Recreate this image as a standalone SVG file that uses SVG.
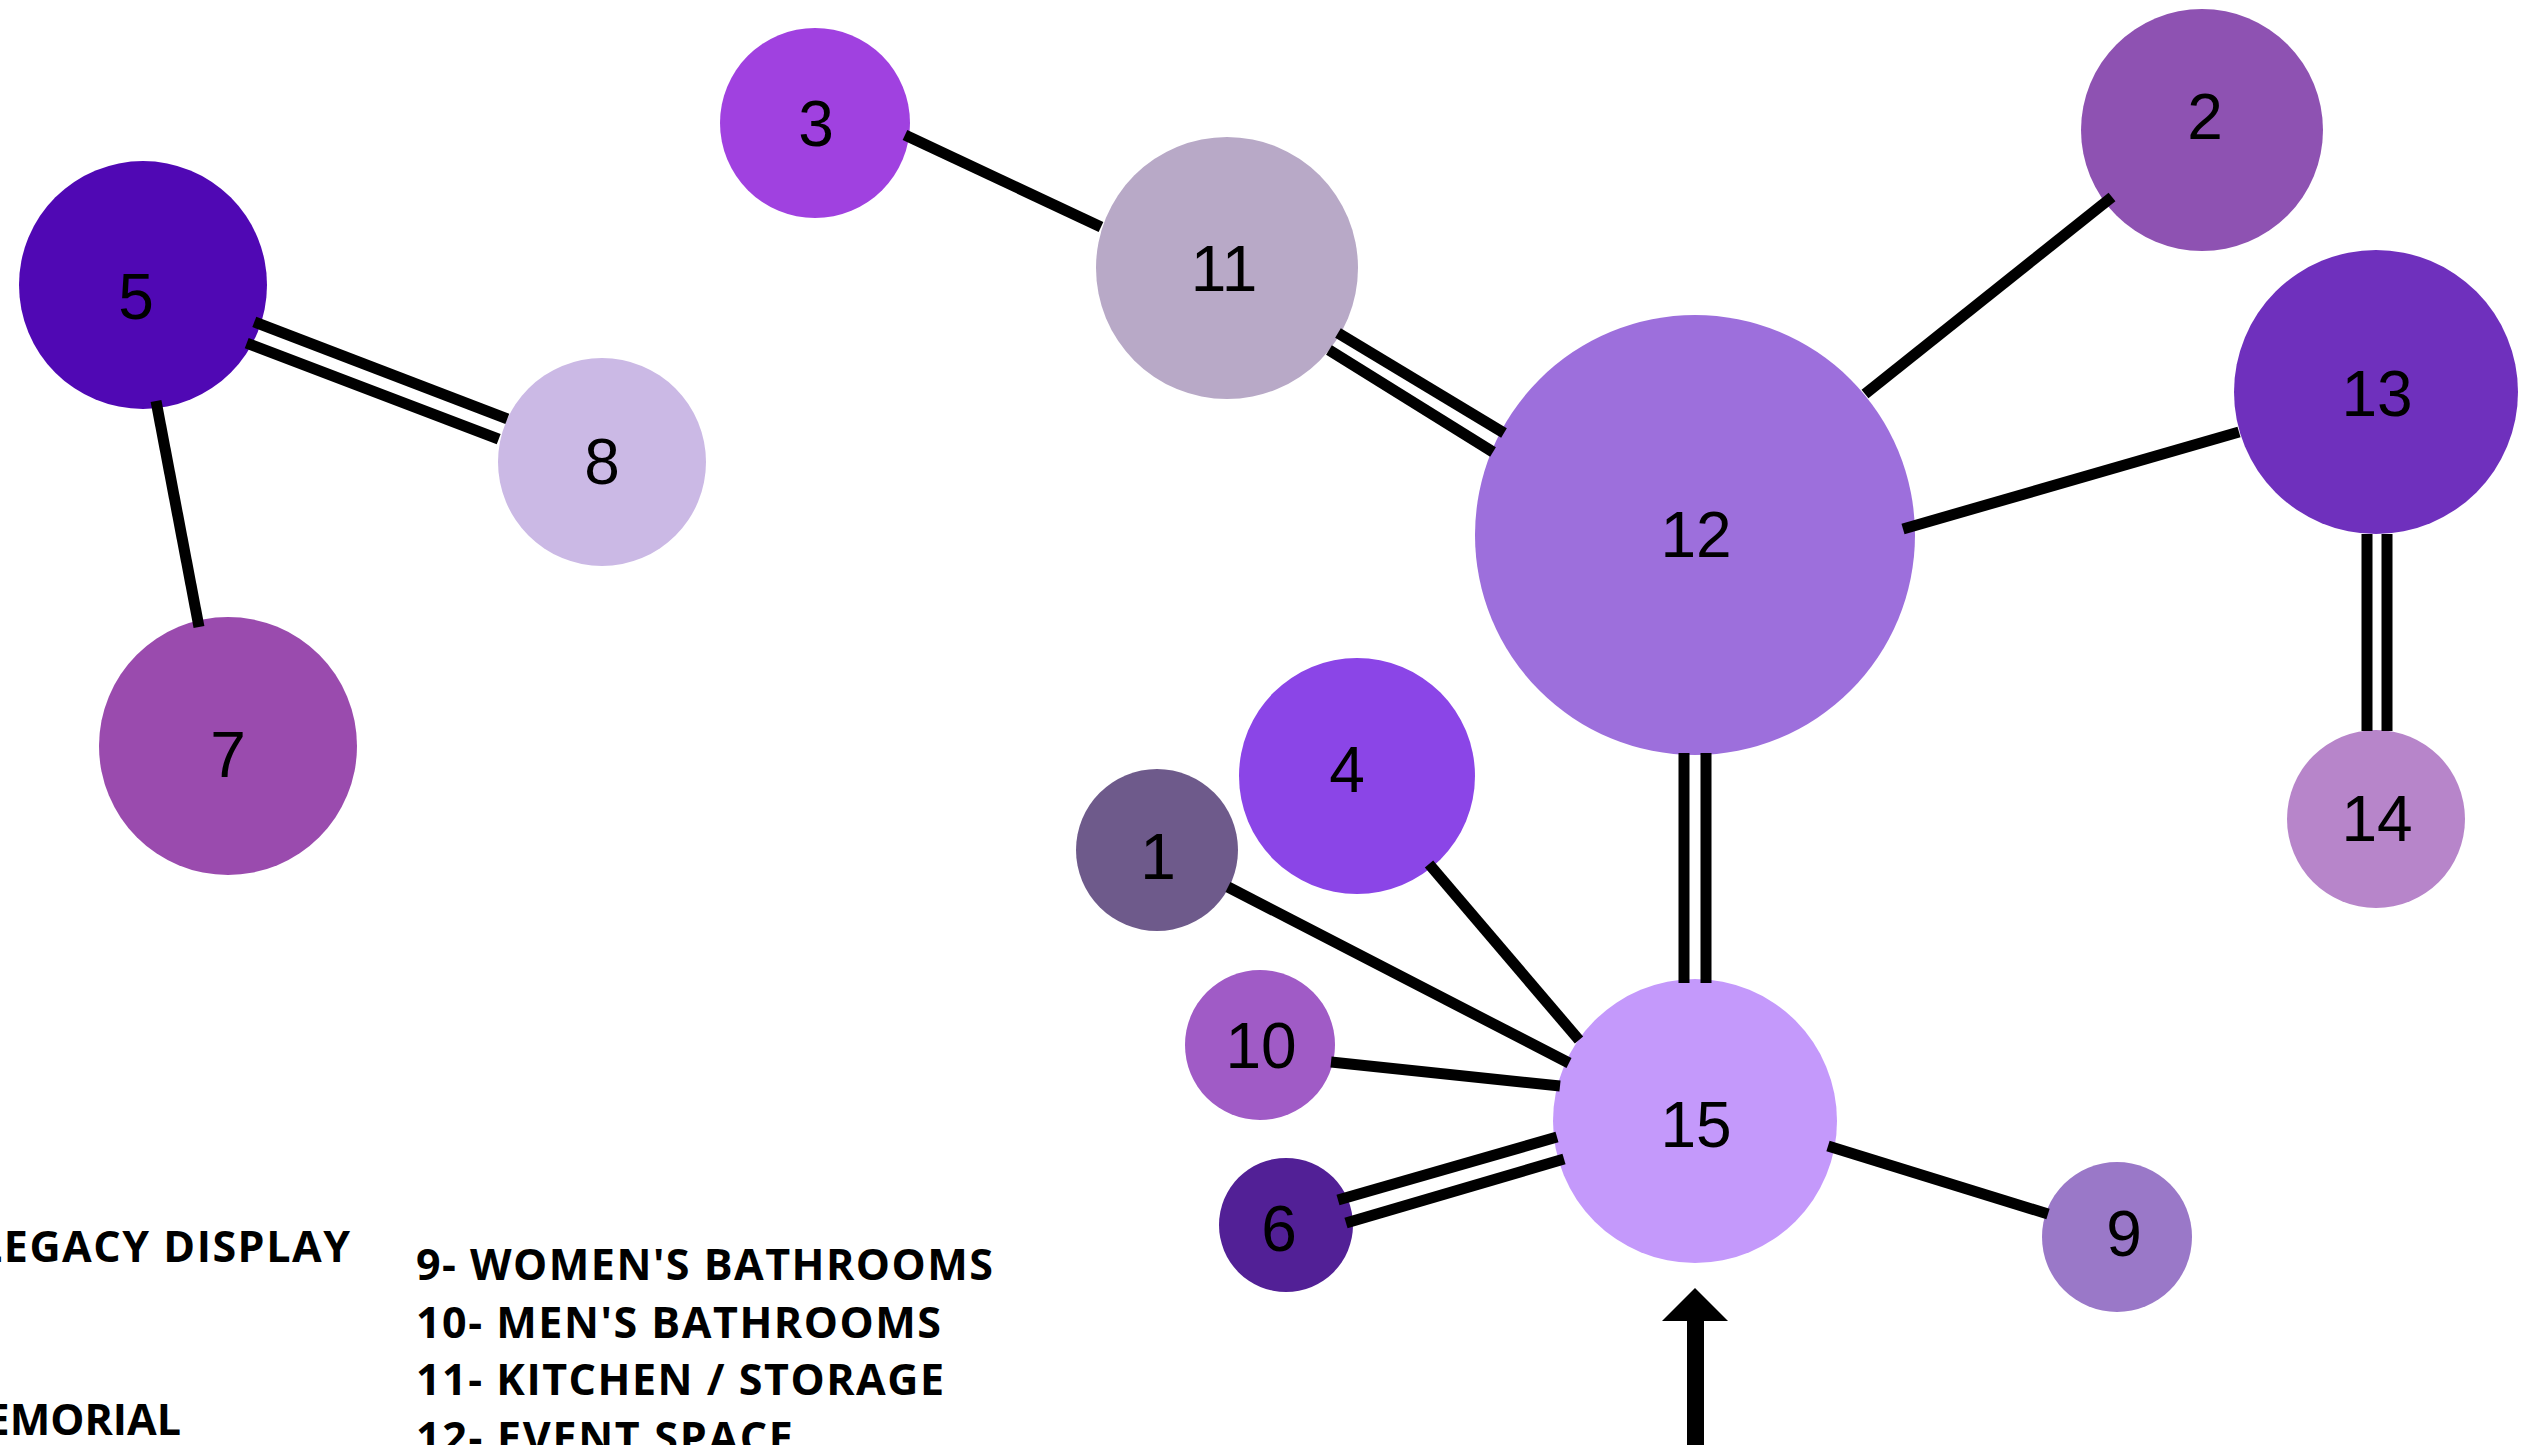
<svg xmlns="http://www.w3.org/2000/svg" width="2534" height="1445" viewBox="0 0 2534 1445">
<style>
.n text{font-family:"Liberation Sans",Arial,sans-serif;font-size:64px;fill:#000;text-anchor:middle}
.c line{stroke:#000;stroke-width:11;stroke-linecap:butt}
.lg{font-family:"Open Sans","DejaVu Sans",sans-serif;font-weight:700;font-size:43px;fill:#000}
</style>
<rect width="2534" height="1445" fill="#fff"/>
<g id="nodes" class="n">
<g id="node-5"><circle cx="143" cy="285" r="124" fill="#5008B4"/><text x="136" y="319">5</text></g>
<g id="node-8"><circle cx="602" cy="462" r="104" fill="#CBB9E5"/><text x="602" y="484">8</text></g>
<g id="node-7"><circle cx="228" cy="746" r="129" fill="#9A4BAE"/><text x="228" y="777">7</text></g>
<g id="node-3"><circle cx="815" cy="123" r="95" fill="#A041E0"/><text x="816" y="146">3</text></g>
<g id="node-11"><circle cx="1227" cy="268" r="131" fill="#B8A9C7"/><text x="1224" y="291">11</text></g>
<g id="node-2"><circle cx="2202" cy="130" r="121" fill="#8E52B2"/><text x="2205" y="139">2</text></g>
<g id="node-12"><circle cx="1695" cy="535" r="220" fill="#9D6FDC"/><text x="1696" y="557">12</text></g>
<g id="node-13"><circle cx="2376" cy="392" r="142" fill="#6F30BD"/><text x="2377" y="416">13</text></g>
<g id="node-14"><circle cx="2376" cy="819" r="89" fill="#B785CA"/><text x="2377" y="841">14</text></g>
<g id="node-4"><circle cx="1357" cy="776" r="118" fill="#8B45E7"/><text x="1347" y="792">4</text></g>
<g id="node-1"><circle cx="1157" cy="850" r="81" fill="#6E5A8B"/><text x="1158" y="879">1</text></g>
<g id="node-10"><circle cx="1260" cy="1045" r="75" fill="#A05BC6"/><text x="1261" y="1068">10</text></g>
<g id="node-6"><circle cx="1286" cy="1225" r="67" fill="#522096"/><text x="1279" y="1251">6</text></g>
<g id="node-15"><circle cx="1695" cy="1121" r="142" fill="#C499FB"/><text x="1696" y="1147">15</text></g>
<g id="node-9"><circle cx="2117" cy="1237" r="75" fill="#9A78C8"/><text x="2124" y="1256">9</text></g>
</g>
<g id="connectors" class="c">
<line x1="905" y1="135" x2="1101" y2="227"/>
<line x1="1338" y1="333" x2="1504" y2="433"/>
<line x1="1329" y1="350" x2="1493" y2="452"/>
<line x1="1865" y1="394" x2="2112" y2="197"/>
<line x1="1903" y1="529" x2="2239" y2="432"/>
<line x1="2367" y1="534" x2="2367" y2="731"/>
<line x1="2387" y1="534" x2="2387" y2="731"/>
<line x1="1684" y1="753" x2="1684" y2="983"/>
<line x1="1706" y1="753" x2="1706" y2="983"/>
<line x1="1429" y1="864" x2="1579" y2="1040"/>
<line x1="1228" y1="887" x2="1569" y2="1063"/>
<line x1="1331" y1="1062" x2="1560" y2="1086"/>
<line x1="1338" y1="1200" x2="1557" y2="1137"/>
<line x1="1346" y1="1223" x2="1564" y2="1159"/>
<line x1="1828" y1="1146" x2="2048" y2="1214"/>
<line x1="254.3" y1="321.9" x2="507.3" y2="418.9"/>
<line x1="246.7" y1="343.1" x2="498.7" y2="439.1"/>
<line x1="156" y1="401" x2="199" y2="627"/>
<polygon points="1695,1288 1728,1321 1704,1321 1704,1445 1687,1445 1687,1321 1662,1321" fill="#000" stroke="none"/>
</g>
<g id="legend">
<text class="lg" x="-22" y="1262" textLength="372" lengthAdjust="spacing">LEGACY DISPLAY</text>
<text class="lg" x="181" y="1435" text-anchor="end">MEMORIAL</text>
<text class="lg" x="416" y="1280" textLength="577" lengthAdjust="spacing">9- WOMEN'S BATHROOMS</text>
<text class="lg" x="416" y="1337.5" textLength="525" lengthAdjust="spacing">10- MEN'S BATHROOMS</text>
<text class="lg" x="416" y="1395" textLength="528" lengthAdjust="spacing">11- KITCHEN / STORAGE</text>
<text class="lg" x="416" y="1452.5" letter-spacing="1.7">12- EVENT SPACE</text>
</g>
</svg>
